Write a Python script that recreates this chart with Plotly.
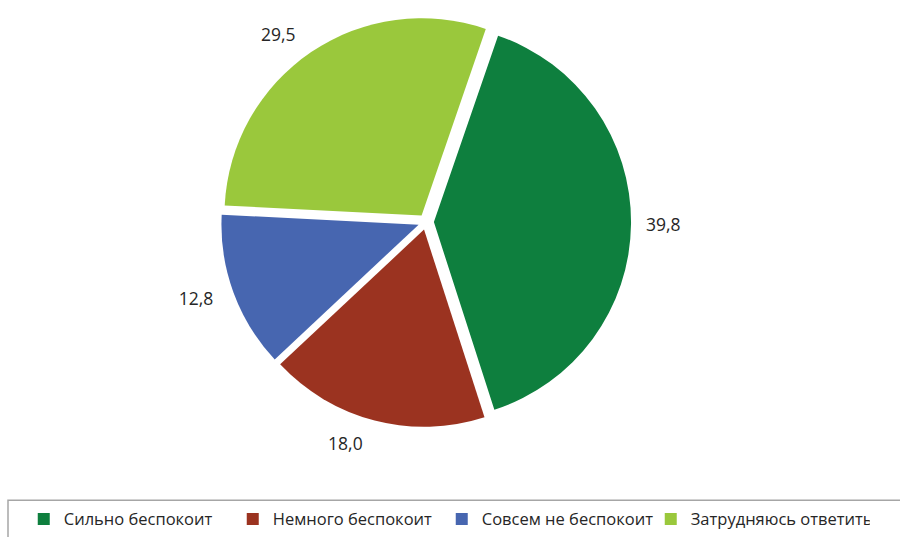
import plotly.graph_objects as go

categories = ["Сильно беспокоит", "Немного беспокоит", "Совсем не беспокоит", "Затрудняюсь ответить"]
values = [39.8, 18.0, 12.8, 29.5]
colors = ["#0E7F3E", "#9B3320", "#4766B0", "#9AC83C"]
labels_text = [f"{v:.1f}".replace(".", ",") for v in values]

W, H = 900, 537
cx, cy = 426, 219          # pie centre in px
r = 199                    # pie radius in px
pull = 0.04
r_lab = 219                # radius of the label ring

def dom(rad, ox=0):
    return dict(x=[max(0, (cx + ox - rad) / W), min(1, (cx + ox + rad) / W)],
                y=[max(0, (H - cy - rad) / H), min(1, (H - cy + rad) / H)])

lab_font = dict(family="Open Sans, Noto Sans, sans-serif", size=17.5, color="#262626")
leg_font = dict(family="Open Sans, Noto Sans, sans-serif", size=16.5, color="#262626")

fig = go.Figure()
fig.add_trace(go.Pie(
    labels=categories, values=values, sort=False, direction="clockwise",
    rotation=19, pull=[pull] * 4, marker=dict(colors=colors, line=dict(width=0)),
    textinfo="none", domain=dom(r * (1 + pull)), hoverinfo="label+value",
))
fig.add_trace(go.Pie(
    labels=categories, values=values, sort=False, direction="clockwise",
    rotation=19, marker=dict(colors=["rgba(0,0,0,0)"] * 4, line=dict(width=0)),
    text=labels_text, textinfo="text", textposition="outside",
    outsidetextfont=lab_font, domain=dom(r_lab, ox=-3), showlegend=False, hoverinfo="skip",
))

fig.add_shape(type="rect", xref="paper", yref="paper",
              x0=8 / W, x1=1.02, y0=-0.05, y1=(H - 500) / H,
              line=dict(color="#A6A6A6", width=1.5), fillcolor="rgba(0,0,0,0)")

fig.update_layout(
    width=W, height=H, margin=dict(l=0, r=0, t=0, b=0),
    paper_bgcolor="white", plot_bgcolor="white",
    font=leg_font,
    legend=dict(orientation="h", x=0.0375, xanchor="left", y=(H - 519) / H, yanchor="middle",
                font=leg_font, itemwidth=30, indentation=-10, traceorder="normal",
                entrywidth=174, entrywidthmode="pixels"),
)
fig.write_html("out.html", config={"displayModeBar": False},
               post_script="document.body.style.margin='0px';")
